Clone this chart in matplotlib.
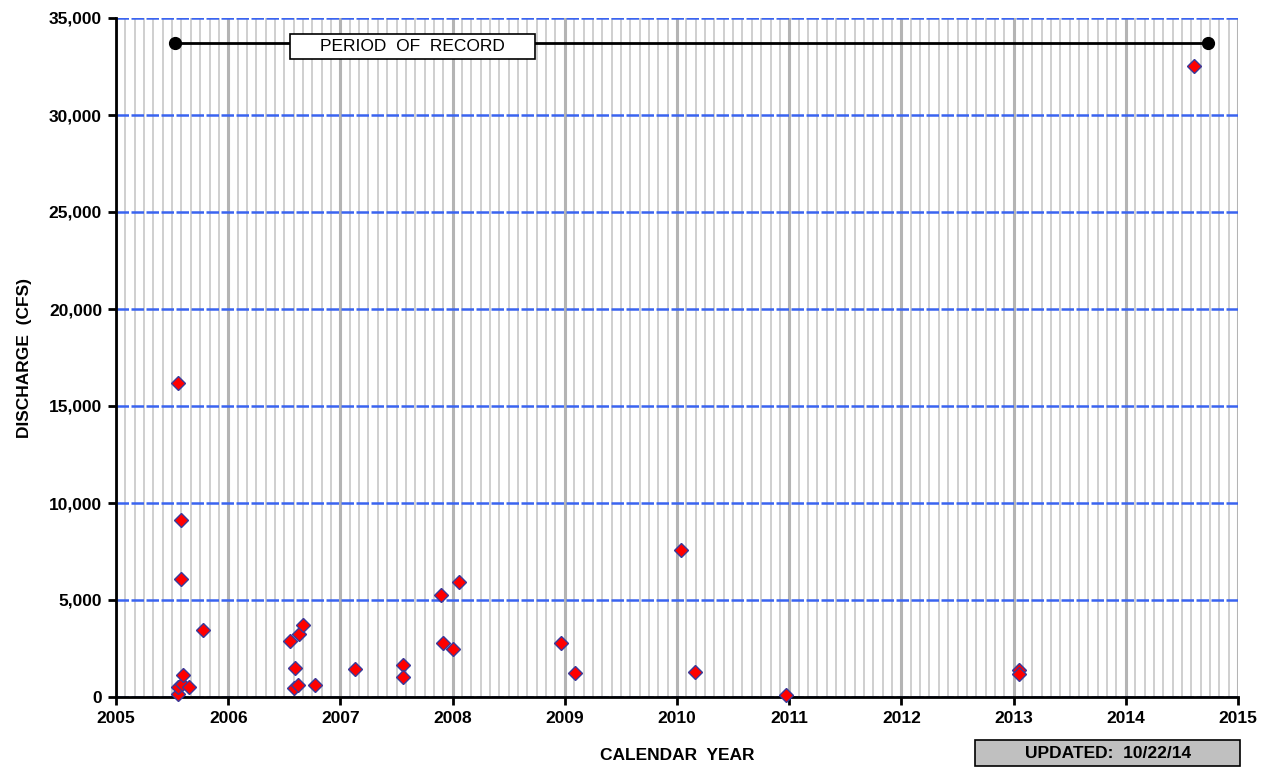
import matplotlib
matplotlib.use("Agg")
import matplotlib.pyplot as plt
import matplotlib.patches as patches
from matplotlib.ticker import MultipleLocator, FuncFormatter

# measured peak discharges (decimal year, cfs)
years = [2005.550, 2005.553, 2005.555, 2005.580, 2005.580, 2005.585, 2005.600, 2005.653,
         2005.778, 2006.550, 2006.586, 2006.595, 2006.620, 2006.630, 2006.670, 2006.770,
         2007.130, 2007.560, 2007.560, 2007.900, 2007.910, 2008.000, 2008.060, 2008.970,
         2009.090, 2010.040, 2010.160, 2010.970, 2013.050, 2013.050, 2014.610]
cfs = [155, 16200, 500, 9100, 6100, 670, 1130, 530,
       3450, 2890, 450, 1480, 600, 3230, 3710, 600,
       1430, 1650, 1050, 5260, 2770, 2460, 5910, 2770,
       1220, 7580, 1270, 100, 1380, 1200, 32540]

period_start = 2005.53
period_end = 2014.73
period_level = 33700

plt.rcParams['font.family'] = ['Liberation Sans', 'DejaVu Sans']

fig = plt.figure(figsize=(12.67, 7.72), dpi=100)
ax = fig.add_axes([116/1267, 1 - 697/772, 1122/1267, 679/772])

ax.set_xlim(2005, 2015)
ax.set_ylim(0, 35000)

# grid: monthly light gray, yearly darker gray, blue dashed horizontals
ax.xaxis.set_major_locator(MultipleLocator(1))
ax.xaxis.set_minor_locator(MultipleLocator(1/12))
ax.yaxis.set_major_locator(MultipleLocator(5000))
ax.grid(which='minor', axis='x', color='#cfcfcf', linewidth=1.4)
ax.grid(which='major', axis='x', color='#b4b4b4', linewidth=2.2)
ax.grid(which='major', axis='y', color='#3a64f0', linewidth=1.8, linestyle=(0, (5, 1)))
ax.set_axisbelow(True)

for s in ['top', 'right']:
    ax.spines[s].set_visible(False)
for s in ['left', 'bottom']:
    ax.spines[s].set_linewidth(2)

ax.tick_params(which='major', length=6, width=2, direction='out', labelsize=12.5, pad=4)
ax.tick_params(which='minor', length=0)
ax.xaxis.set_major_formatter(FuncFormatter(lambda v, p: f"{int(round(v))}"))
ax.yaxis.set_major_formatter(FuncFormatter(lambda v, p: f"{int(v):,}"))
for lab in ax.get_xticklabels() + ax.get_yticklabels():
    lab.set_fontweight('bold')

# period of record
ax.plot([period_start, period_end], [period_level, period_level], color='black',
        linewidth=2, zorder=3)
ax.plot([period_start, period_end], [period_level, period_level], 'o', color='black',
        markersize=8.5, zorder=4)
ax.add_patch(patches.Rectangle((2006.551, 32887), 2.183, 1288, facecolor='white',
                               edgecolor='black', linewidth=1.2, zorder=5))
ax.text(2007.643, 33531, "PERIOD  OF  RECORD", ha='center', va='center', fontsize=12.5,
        zorder=6)

# data points
ax.plot(years, cfs, linestyle='none', marker='D', markersize=7.5, markerfacecolor='#ff0000',
        markeredgecolor='#3a3a9a', markeredgewidth=1, zorder=7, clip_on=False)

ax.set_xlabel("CALENDAR  YEAR", fontsize=12.5, fontweight='bold', labelpad=16)
ax.set_ylabel("DISCHARGE  (CFS)", fontsize=12.5, fontweight='bold', labelpad=12)

# updated box
fig.patches.append(patches.Rectangle((975/1267, 1 - 766/772), 265/1267, 26/772,
                                     transform=fig.transFigure, facecolor='#c0c0c0',
                                     edgecolor='black', linewidth=1.2))
fig.text(1108/1267, 1 - 753/772, "UPDATED:  10/22/14", ha='center', va='center',
         fontsize=12.5, fontweight='bold')

fig.savefig("out.png", dpi=100)
